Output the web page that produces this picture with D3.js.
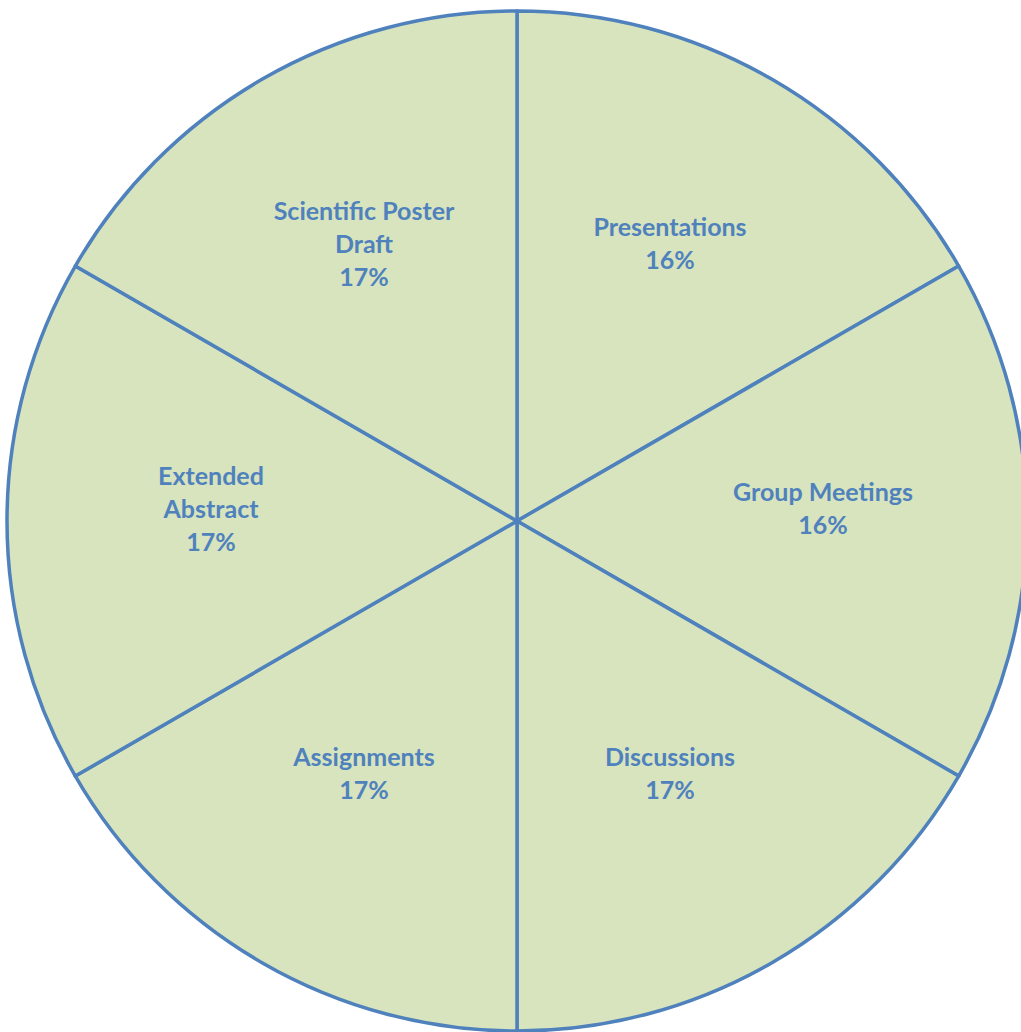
<!DOCTYPE html>
<html>
<head>
<meta charset="utf-8">
<script src="https://cdn.jsdelivr.net/npm/d3@7"></script>
<style>
  body { margin: 0; background: #fff; }
</style>
</head>
<body>
<div id="chart-container"></div>
<script>
// Define data
const categories = ["Presentations", "Group Meetings", "Discussions", "Assignments", "Extended Abstract", "Scientific Poster Draft"];
const shares = [1, 1, 1, 1, 1, 1];
const pctLabels = ["16%", "16%", "17%", "17%", "17%", "17%"];
const labelLines = [["Presentations"], ["Group Meetings"], ["Discussions"], ["Assignments"], ["Extended", "Abstract"], ["Scientific Poster", "Draft"]];

const width = 1021, height = 1032;
const cx = 517, cy = 521, radius = 510;

const svg = d3.select('#chart-container')
    .append('svg')
    .attr('width', width)
    .attr('height', height)
    .append('g')
    .attr('transform', `translate(${cx},${cy})`);

const pie = d3.pie().sort(null).value(d => d);
const arcs = pie(shares);

const arc = d3.arc().innerRadius(0).outerRadius(radius);
const labelArc = d3.arc().innerRadius(radius * 0.6).outerRadius(radius * 0.6);

// Draw slices
svg.selectAll('.slice')
    .data(arcs)
    .enter()
    .append('path')
    .attr('class', 'slice')
    .attr('d', arc)
    .attr('fill', '#d7e4bd')
    .attr('stroke', '#4f81bd')
    .attr('stroke-width', 3.5)
    .attr('stroke-linejoin', 'round');

// Labels (lifted a little, like the original)
const lineH = 33;
const labels = svg.selectAll('.label')
    .data(arcs)
    .enter()
    .append('text')
    .attr('class', 'label')
    .attr('text-anchor', 'middle')
    .attr('font-family', 'Lato, "Open Sans", sans-serif')
    .attr('font-weight', 'bold')
    .attr('font-size', 25)
    .attr('fill', '#4f81bd')
    .attr('transform', d => {
        const [x, y] = labelArc.centroid(d);
        return `translate(${x},${y - 12})`;
    });

labels.each(function(d, i) {
    const lines = labelLines[i].concat([pctLabels[i]]);
    const y0 = -(lines.length - 1) * lineH / 2;
    d3.select(this).selectAll('tspan')
        .data(lines)
        .enter()
        .append('tspan')
        .attr('x', 0)
        .attr('y', (t, j) => y0 + j * lineH)
        .attr('dy', '0.35em')
        .text(t => t);
});
</script>
</body>
</html>
